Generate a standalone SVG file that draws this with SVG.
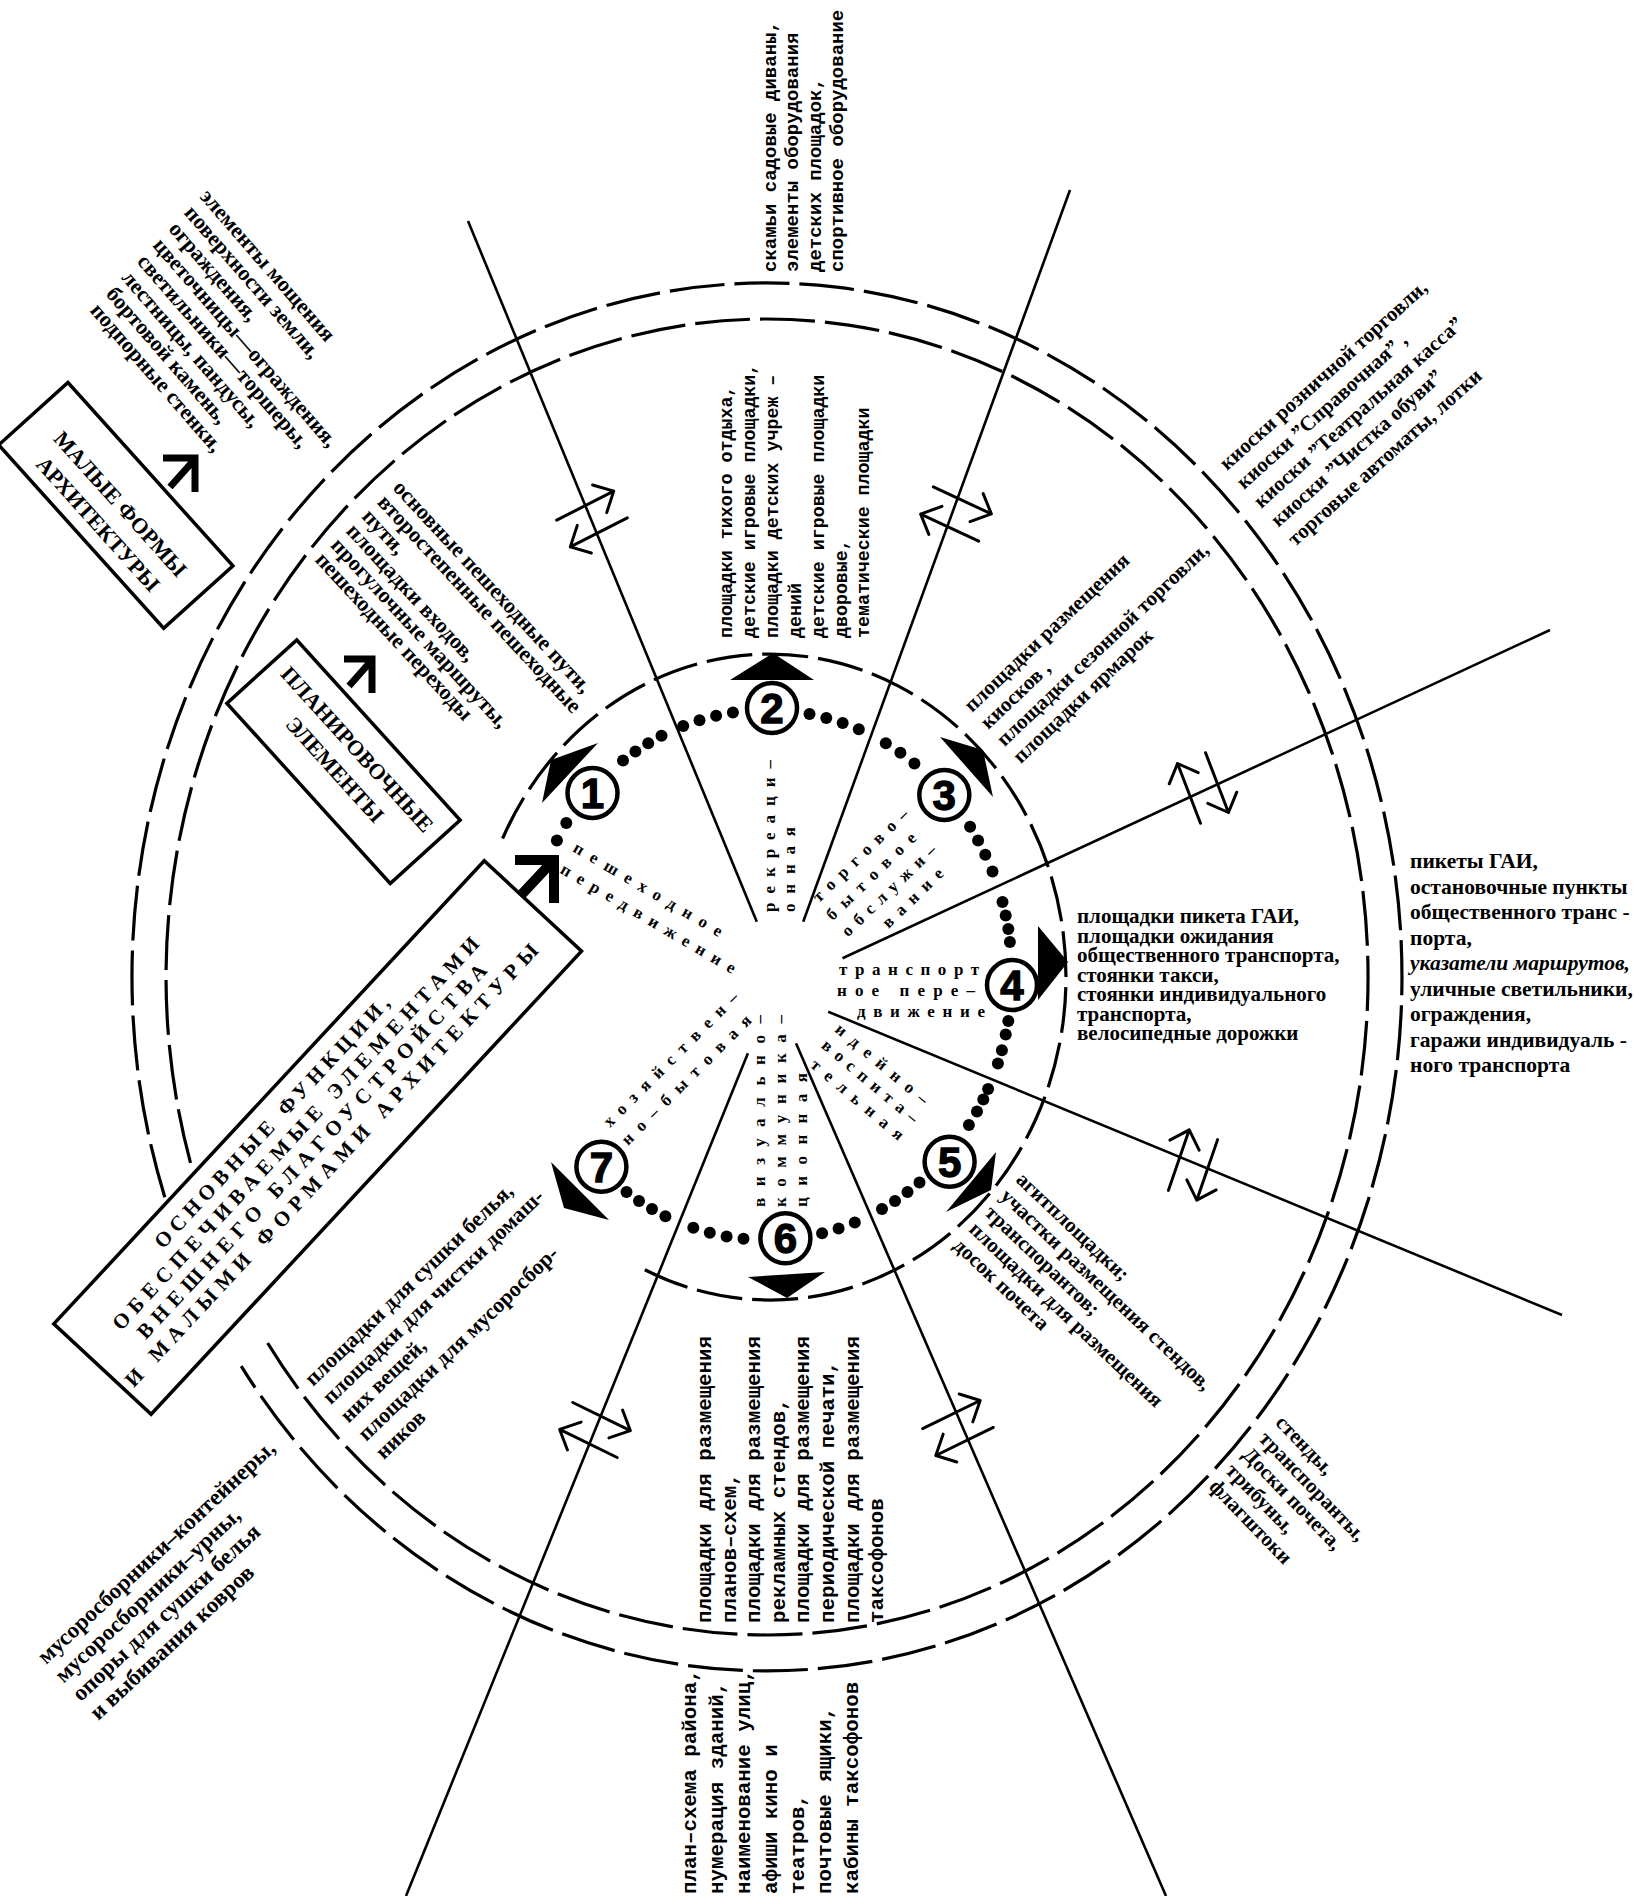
<svg xmlns="http://www.w3.org/2000/svg" width="1635" height="1896" viewBox="0 0 1635 1896">
<defs>
<style>
.sf{font-family:"Liberation Serif","Times New Roman",serif;font-weight:bold;fill:#000}
.mn{font-family:"Liberation Mono","Courier New",monospace;font-weight:bold;fill:#000}
.sn{font-family:"Liberation Sans",Arial,sans-serif;font-weight:bold;fill:#000;stroke:#000;stroke-width:1.3}
.ring{fill:none;stroke:#000;stroke-width:3.2}
.ln{stroke:#000;stroke-width:2.6;fill:none}
.sw{stroke:#000;stroke-width:3;fill:none;stroke-linecap:round;stroke-linejoin:round}
.box{fill:#fff;stroke:#000;stroke-width:3.5}
.num{fill:#fff;stroke:#000;stroke-width:4.5}
.arw{fill:none;stroke:#000}
.lab{font-size:17px}
</style>
<g id="swap" class="sw">
<path d="M-32,-15 H32 M16,-30 L32,-15 L16,1"/>
<path d="M32,15 H-32 M-16,30 L-32,15 L-16,-1"/>
</g>
</defs>
<rect width="1635" height="1896" fill="#fff"/>

<g id="rings">
<path class="ring" stroke-dasharray="55 10" d="M164.8,1197.2 A635,694 0 1 1 241.2,1366.1"/>
<path class="ring" stroke-dasharray="55 10" d="M190.5,1162.8 A601,658 0 1 1 267.6,1343"/>
<path class="ring" stroke-dasharray="46 10" d="M502.6,838.5 A296,323 0 1 1 637,1265.6"/>
</g>

<g id="connectors">
<line class="ln" x1="468" y1="221" x2="756.8" y2="921.7"/>
<line class="ln" x1="1070" y1="190" x2="803.2" y2="921.7"/>
<line class="ln" x1="1550" y1="630" x2="842.5" y2="958.3"/>
<line class="ln" x1="828.2" y1="1011.7" x2="1562" y2="1315"/>
<line class="ln" x1="796" y1="1043.3" x2="1166" y2="1896"/>
<line class="ln" x1="747.9" y1="1053.3" x2="406" y2="1896"/>
<use href="#swap" transform="translate(592,519) rotate(-27)"/>
<use href="#swap" transform="translate(956,514) rotate(25)"/>
<use href="#swap" transform="translate(1203,788) rotate(-111)"/>
<use href="#swap" transform="translate(1193,1165) rotate(-71)"/>
<use href="#swap" transform="translate(958,1428) rotate(-26)"/>
<use href="#swap" transform="translate(595,1430) rotate(26)"/>
</g>

<g id="dots" fill="#000">
<circle cx="556.9" cy="840.5" r="6"/><circle cx="566.3" cy="823" r="6"/>
<circle cx="623" cy="760.6" r="6"/><circle cx="635.4" cy="751.5" r="6"/><circle cx="648.2" cy="743.2" r="6"/><circle cx="661.5" cy="735.8" r="6"/><circle cx="683.2" cy="726" r="6"/><circle cx="699.5" cy="720.3" r="6"/><circle cx="716.1" cy="715.8" r="6"/><circle cx="732.9" cy="712.6" r="6"/>
<circle cx="809.5" cy="714" r="6"/><circle cx="826.3" cy="717.9" r="6"/><circle cx="842.7" cy="723" r="6"/><circle cx="858.8" cy="729.3" r="6"/><circle cx="885.8" cy="743.2" r="6"/><circle cx="900.4" cy="752.7" r="6"/><circle cx="914.4" cy="763.4" r="6"/>
<circle cx="970.1" cy="826.8" r="6"/><circle cx="978.1" cy="840.5" r="6"/><circle cx="985.3" cy="854.7" r="6"/><circle cx="992.5" cy="871.5" r="6"/><circle cx="1002.5" cy="902" r="6"/><circle cx="1005.7" cy="915.4" r="6"/><circle cx="1008.3" cy="929" r="6"/><circle cx="1009.9" cy="942" r="6"/>
<circle cx="1008.3" cy="1021" r="6"/><circle cx="1005.7" cy="1034.6" r="6"/><circle cx="1001.9" cy="1050.3" r="6"/><circle cx="997.9" cy="1063.5" r="6"/><circle cx="988.1" cy="1089.1" r="6"/><circle cx="983.3" cy="1099.4" r="6"/><circle cx="977" cy="1111.5" r="6"/><circle cx="968.9" cy="1125.1" r="6"/>
<circle cx="919.5" cy="1182.4" r="6"/><circle cx="907.5" cy="1192.1" r="6"/><circle cx="895" cy="1200.9" r="6"/><circle cx="882" cy="1209" r="6"/><circle cx="854.8" cy="1222.4" r="6"/><circle cx="838.6" cy="1228.4" r="6"/><circle cx="822.1" cy="1233.2" r="6"/>
<circle cx="743.5" cy="1238.8" r="6"/><circle cx="726.6" cy="1236.4" r="6"/><circle cx="709.8" cy="1232.7" r="6"/><circle cx="693.3" cy="1227.7" r="6"/><circle cx="665.4" cy="1216.2" r="6"/><circle cx="652" cy="1209" r="6"/><circle cx="639" cy="1200.9" r="6"/><circle cx="626.5" cy="1192.1" r="6"/>
</g>

<g id="node1"><polygon points="598,743 542,803 551,760"/><circle class="num" cx="592.5" cy="793" r="25"/><text class="sn" x="592.5" y="808" font-size="42" text-anchor="middle">1</text></g>
<g id="node2"><polygon points="730,680 814,680 773,653"/><circle class="num" cx="772" cy="708" r="25"/><text class="sn" x="772" y="723" font-size="42" text-anchor="middle">2</text></g>
<g id="node3"><polygon points="940,737 993,797 983,750"/><circle class="num" cx="944.3" cy="795" r="25"/><text class="sn" x="944.3" y="810" font-size="42" text-anchor="middle">3</text></g>
<g id="node4"><polygon points="1038,926 1038,1000 1068,962"/><circle class="num" cx="1012" cy="985" r="25"/><text class="sn" x="1012" y="1000" font-size="42" text-anchor="middle">4</text></g>
<g id="node5"><polygon points="996,1152 946,1212 991,1190"/><circle class="num" cx="949.6" cy="1161.7" r="25"/><text class="sn" x="949.6" y="1176.7" font-size="42" text-anchor="middle">5</text></g>
<g id="node6"><polygon points="748,1277 825,1272 787,1298"/><circle class="num" cx="785.4" cy="1238.3" r="25"/><text class="sn" x="785.4" y="1253.3" font-size="42" text-anchor="middle">6</text></g>
<g id="node7"><polygon points="551,1162 609,1220 564,1208"/><circle class="num" cx="601.4" cy="1166.7" r="25"/><text class="sn" x="601.4" y="1181.7" font-size="42" text-anchor="middle">7</text></g>

<g id="sector-labels" class="sf lab">
<g transform="translate(572,851) rotate(30.5)">
<text x="0" y="0" textLength="170" lengthAdjust="spacing">пешеходное</text>
<text x="0" y="25" textLength="200" lengthAdjust="spacing">передвижение</text>
</g>
<g transform="translate(775,912) rotate(-90)">
<text x="0" y="0" textLength="152" lengthAdjust="spacing">рекреаци–</text>
<text x="0" y="19.5" textLength="85" lengthAdjust="spacing">онная</text>
</g>
<g transform="translate(819,903) rotate(-44)">
<text x="0" y="0" textLength="126" lengthAdjust="spacing">торгово–</text>
<text x="-3" y="22.5" textLength="118" lengthAdjust="spacing">бытовое</text>
<text x="-3" y="45" textLength="124" lengthAdjust="spacing">обслужи–</text>
<text x="32" y="67" textLength="78" lengthAdjust="spacing">вание</text>
</g>
<text x="839" y="975" textLength="140" lengthAdjust="spacing">транспорт</text>
<text x="837" y="996" textLength="138" lengthAdjust="spacing">ное  пере–</text>
<text x="857" y="1017" textLength="128" lengthAdjust="spacing">движение</text>
<g transform="translate(834,1031) rotate(40)">
<text x="0" y="0" textLength="116" lengthAdjust="spacing">идейно–</text>
<text x="0" y="21" textLength="120" lengthAdjust="spacing">воспита–</text>
<text x="4" y="43" textLength="116" lengthAdjust="spacing">тельная</text>
</g>
<g transform="translate(610,1128) rotate(-45)">
<text x="0" y="0" textLength="183" lengthAdjust="spacing">хозяйствен–</text>
<text x="0" y="25.5" textLength="176" lengthAdjust="spacing">но–бытовая</text>
</g>
<g transform="translate(765,1207) rotate(-90)">
<text x="0" y="0" textLength="192" lengthAdjust="spacing">визуально–</text>
<text x="0" y="21" textLength="192" lengthAdjust="spacing">коммуника–</text>
<text x="0" y="42" textLength="134" lengthAdjust="spacing">ционная</text>
</g>
</g>

<g id="box-malye">
<g transform="translate(115.8,505.4) rotate(48)">
<rect class="box" x="-123.3" y="-46.6" width="246.6" height="93.2"/>
<text class="sf" font-size="22" text-anchor="middle"><tspan x="2" y="3">МАЛЫЕ ФОРМЫ</tspan><tspan x="2" y="33">АРХИТЕКТУРЫ</tspan></text>
</g>
<path class="arw" stroke-width="7" d="M163,458 H195 V492 M195,459 L170,487"/>
</g>

<g id="box-planir">
<g transform="translate(343.5,761.7) rotate(47.8)">
<rect class="box" x="-121.6" y="-47.15" width="243.2" height="94.3"/>
<text class="sf" font-size="22" text-anchor="middle"><tspan x="0" y="-11">ПЛАНИРОВОЧНЫЕ</tspan><tspan x="0" y="19">ЭЛЕМЕНТЫ</tspan></text>
</g>
<path class="arw" stroke-width="7" d="M344,659 H372 V693 M372,660 L349,686"/>
</g>

<g id="box-main">
<g transform="translate(317.7,1137.5) rotate(-47.1)">
<rect class="box" x="-316.2" y="-66.4" width="632.3" height="132.8"/>
<g class="sf" font-size="21" text-anchor="middle">
<text x="-20" y="-37" textLength="335" lengthAdjust="spacing">ОСНОВНЫЕ ФУНКЦИИ,</text>
<text x="-12" y="-12" textLength="528" lengthAdjust="spacing">ОБЕСПЕЧИВАЕМЫЕ ЭЛЕМЕНТАМИ</text>
<text x="-14" y="12" textLength="503" lengthAdjust="spacing">ВНЕШНЕГО БЛАГОУСТРОЙСТВА</text>
<text x="-11" y="36" textLength="596" lengthAdjust="spacing">И  МАЛЫМИ  ФОРМАМИ  АРХИТЕКТУРЫ</text>
</g>
</g>
<path class="arw" stroke-width="10" d="M515,860 H554 V903 M552,862 L522,894"/>
</g>

<g id="t-elements">
<text class="sf" font-size="22" transform="translate(199,197) rotate(49)">
<tspan x="0" y="0">элементы мощения</tspan>
<tspan x="2" y="22.5">поверхности земли,</tspan>
<tspan x="4" y="45">ограждения,</tspan>
<tspan x="6" y="67.5">цветочницы—ограждения,</tspan>
<tspan x="8" y="90">светильники—торшеры,</tspan>
<tspan x="10" y="112.5">лестницы, пандусы,</tspan>
<tspan x="12" y="135">бортовой камень,</tspan>
<tspan x="14" y="157.5">подпорные стенки,</tspan>
</text>
</g>

<g id="t-benches">
<text class="mn" font-size="19" transform="translate(776,272) rotate(-90)">
<tspan x="0" y="0">скамьи  садовые диваны,</tspan>
<tspan x="0" y="22.3">элементы оборудования</tspan>
<tspan x="0" y="44.6">детских площадок,</tspan>
<tspan x="0" y="66.9">спортивное оборудование</tspan>
</text>
</g>

<g id="t-kiosks">
<text class="sf" font-size="21" transform="translate(1227,471) rotate(-42)">
<tspan x="0" y="0">киоски розничной торговли,</tspan>
<tspan x="0" y="25.5">киоски ”Справочная” ,</tspan>
<tspan x="0" y="51">киоски ”Театральная касса”</tspan>
<tspan x="0" y="76.5">киоски ”Чистка обуви”</tspan>
<tspan x="0" y="102">торговые автоматы, лотки</tspan>
</text>
</g>

<g id="t-recreation">
<text class="mn" font-size="18.3" transform="translate(732,638) rotate(-90)">
<tspan x="0" y="0">площадки тихого отдыха,</tspan>
<tspan x="0" y="22.9">детские игровые площадки,</tspan>
<tspan x="0" y="45.8">площадки детских учреж –</tspan>
<tspan x="0" y="68.7">дений</tspan>
<tspan x="0" y="91.6">детские игровые площадки</tspan>
<tspan x="0" y="114.5">дворовые,</tspan>
<tspan x="0" y="137.4">тематические площадки</tspan>
</text>
</g>

<g id="t-pedestrian">
<text class="sf" font-size="22" transform="translate(392,488.5) rotate(47.2)">
<tspan x="0" y="0">основные пешеходные пути,</tspan>
<tspan x="0" y="21.2">второстепенные пешеходные</tspan>
<tspan x="0" y="42.4">пути,</tspan>
<tspan x="0" y="63.6">площадки входов,</tspan>
<tspan x="0" y="84.8">прогулочные маршруты,</tspan>
<tspan x="0" y="106">пешеходные переходы</tspan>
</text>
</g>

<g id="t-trade">
<text class="sf" font-size="21" transform="translate(972,713) rotate(-43.6)">
<tspan x="0" y="0">площадки размещения</tspan>
<tspan x="0" y="23.6">киосков ,</tspan>
<tspan x="0" y="47.2">площадки сезонной торговли,</tspan>
<tspan x="0" y="70.8">площадки ярмарок</tspan>
</text>
</g>

<g id="t-transport-in">
<text class="sf" font-size="21">
<tspan x="1077" y="923">площадки пикета ГАИ,</tspan>
<tspan x="1077" y="942.5">площадки ожидания</tspan>
<tspan x="1077" y="962">общественного транспорта,</tspan>
<tspan x="1077" y="981.5">стоянки такси,</tspan>
<tspan x="1077" y="1001">стоянки индивидуального</tspan>
<tspan x="1077" y="1020.5">транспорта,</tspan>
<tspan x="1077" y="1040">велосипедные дорожки</tspan>
</text>
</g>

<g id="t-transport-out">
<text class="sf" font-size="21.5">
<tspan x="1410" y="868">пикеты ГАИ,</tspan>
<tspan x="1410" y="893.5">остановочные пункты</tspan>
<tspan x="1410" y="919">общественного транс -</tspan>
<tspan x="1410" y="944.5">порта,</tspan>
<tspan x="1410" y="970" font-style="italic">указатели маршрутов,</tspan>
<tspan x="1410" y="995.5">уличные светильники,</tspan>
<tspan x="1410" y="1021">ограждения,</tspan>
<tspan x="1410" y="1046.5">гаражи индивидуаль -</tspan>
<tspan x="1410" y="1072">ного транспорта</tspan>
</text>
</g>

<g id="t-agit">
<text class="sf" font-size="21" transform="translate(1015,1181) rotate(43.5)">
<tspan x="0" y="0">агитплощадки;</tspan>
<tspan x="0" y="22.75">участки размещения стендов,</tspan>
<tspan x="0" y="45.5">транспорантов;</tspan>
<tspan x="0" y="68.25">площадки для размещения</tspan>
<tspan x="0" y="91">досок почета</tspan>
</text>
</g>

<g id="t-stands">
<text class="sf" font-size="21" transform="translate(1274.5,1423.6) rotate(46)">
<tspan x="0" y="0">стенды,</tspan>
<tspan x="0" y="23">транспоранты,</tspan>
<tspan x="0" y="46">Доски почета,</tspan>
<tspan x="0" y="69">трибуны,</tspan>
<tspan x="0" y="92">флагштоки</tspan>
</text>
</g>

<g id="t-visual-in">
<text class="mn" font-size="20.8" transform="translate(711,1623) rotate(-90)">
<tspan x="0" y="0">площадки  для  размещения</tspan>
<tspan x="0" y="24.6">планов–схем,</tspan>
<tspan x="0" y="49.2">площадки  для  размещения</tspan>
<tspan x="0" y="73.8">рекламных стендов,</tspan>
<tspan x="0" y="98.4">площадки для  размещения</tspan>
<tspan x="0" y="123">периодической печати,</tspan>
<tspan x="0" y="147.6">площадки для размещения</tspan>
<tspan x="0" y="172.2">таксофонов</tspan>
</text>
</g>

<g id="t-visual-out">
<text class="mn" font-size="20.8" transform="translate(696,1894) rotate(-90)">
<tspan x="0" y="0">план–схема района,</tspan>
<tspan x="0" y="27">нумерация зданий,</tspan>
<tspan x="0" y="54">наименование улиц,</tspan>
<tspan x="0" y="81">афиши кино и</tspan>
<tspan x="0" y="108">театров,</tspan>
<tspan x="0" y="135">почтовые ящики,</tspan>
<tspan x="0" y="162">кабины таксофонов</tspan>
</text>
</g>

<g id="t-household-in">
<text class="sf" font-size="22" transform="translate(313,1387) rotate(-44)">
<tspan x="0" y="0">площадки для сушки белья,</tspan>
<tspan x="0" y="25.5">площадки для чистки домаш-</tspan>
<tspan x="0" y="51">них вещей,</tspan>
<tspan x="0" y="76.5">площадки для  мусоросбор-</tspan>
<tspan x="0" y="102">ников</tspan>
</text>
</g>

<g id="t-household-out">
<text class="sf" font-size="23" transform="translate(46,1665) rotate(-43)">
<tspan x="0" y="0">мусоросборники–контейнеры,</tspan>
<tspan x="0" y="25.5">мусоросборники–урны,</tspan>
<tspan x="0" y="51">опоры  для  сушки  белья</tspan>
<tspan x="0" y="76.5">и  выбивания  ковров</tspan>
</text>
</g>
</svg>
